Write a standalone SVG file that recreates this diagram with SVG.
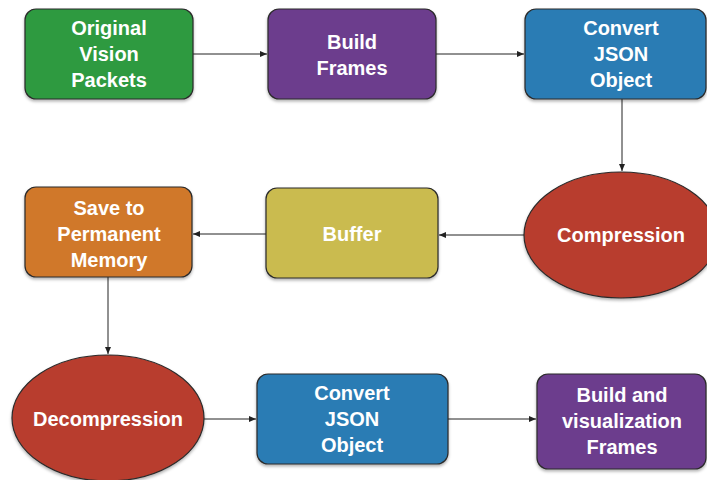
<svg xmlns="http://www.w3.org/2000/svg" width="707" height="480" viewBox="0 0 707 480">
<style>
.n{stroke:#2a2a2a;stroke-width:1.2;filter:url(#sh)}
.t{font-family:"Liberation Sans",Arial,sans-serif;font-weight:bold;font-size:20px;fill:#ffffff;text-anchor:middle}
.c{stroke:#222;stroke-width:1;fill:none;marker-end:url(#ah)}
</style>
<defs>
<filter id="sh" x="-10%" y="-10%" width="120%" height="130%">
<feDropShadow dx="0" dy="2" stdDeviation="1.5" flood-color="#000" flood-opacity="0.3"/>
</filter>
<marker id="ah" markerWidth="8" markerHeight="6" refX="7" refY="3" orient="auto" markerUnits="userSpaceOnUse">
<path d="M0,0 L7,3 L0,6 Z" fill="#222"/>
</marker>
</defs>
<rect width="707" height="480" fill="#ffffff"/>
<g id="connectors">
<line class="c" x1="193" y1="54" x2="267" y2="54"/>
<line class="c" x1="436" y1="54" x2="524" y2="54"/>
<line class="c" x1="622" y1="99" x2="622" y2="171"/>
<line class="c" x1="524" y1="235" x2="439" y2="235"/>
<line class="c" x1="266" y1="234" x2="193" y2="234"/>
<line class="c" x1="108" y1="277" x2="108" y2="354"/>
<line class="c" x1="204" y1="419" x2="256" y2="419"/>
<line class="c" x1="448" y1="419" x2="536" y2="419"/>
</g>
<g id="n1">
<rect class="n" x="25" y="9" width="168" height="90" rx="11" fill="#2e9a3f"/>
<text class="t" x="109" y="35">Original</text>
<text class="t" x="109" y="61">Vision</text>
<text class="t" x="109" y="87">Packets</text>
</g>
<g id="n2">
<rect class="n" x="268" y="9" width="168" height="90" rx="11" fill="#6c3c8d"/>
<text class="t" x="352" y="49">Build</text>
<text class="t" x="352" y="75">Frames</text>
</g>
<g id="n3">
<rect class="n" x="525" y="9" width="181" height="90" rx="11" fill="#2a7cb4"/>
<text class="t" x="621" y="35">Convert</text>
<text class="t" x="621" y="61">JSON</text>
<text class="t" x="621" y="87">Object</text>
</g>
<g id="n4">
<ellipse class="n" cx="621" cy="235" rx="97" ry="63" fill="#b83e2f"/>
<text class="t" x="621" y="242">Compression</text>
</g>
<g id="n5">
<rect class="n" x="266" y="188" width="172" height="90" rx="11" fill="#cabb50"/>
<text class="t" x="352" y="241">Buffer</text>
</g>
<g id="n6">
<rect class="n" x="25" y="187" width="167" height="90" rx="11" fill="#d0782b"/>
<text class="t" x="109" y="215">Save to</text>
<text class="t" x="109" y="241">Permanent</text>
<text class="t" x="109" y="267">Memory</text>
</g>
<g id="n7">
<ellipse class="n" cx="108" cy="418" rx="96" ry="63" fill="#b83e2f"/>
<text class="t" x="108" y="426">Decompression</text>
</g>
<g id="n8">
<rect class="n" x="257" y="374" width="191" height="90" rx="11" fill="#2a7cb4"/>
<text class="t" x="352" y="400">Convert</text>
<text class="t" x="352" y="426">JSON</text>
<text class="t" x="352" y="452">Object</text>
</g>
<g id="n9">
<rect class="n" x="537" y="374" width="169" height="95" rx="11" fill="#6c3c8d"/>
<text class="t" x="622" y="402">Build and</text>
<text class="t" x="622" y="428">visualization</text>
<text class="t" x="622" y="454">Frames</text>
</g>
</svg>
